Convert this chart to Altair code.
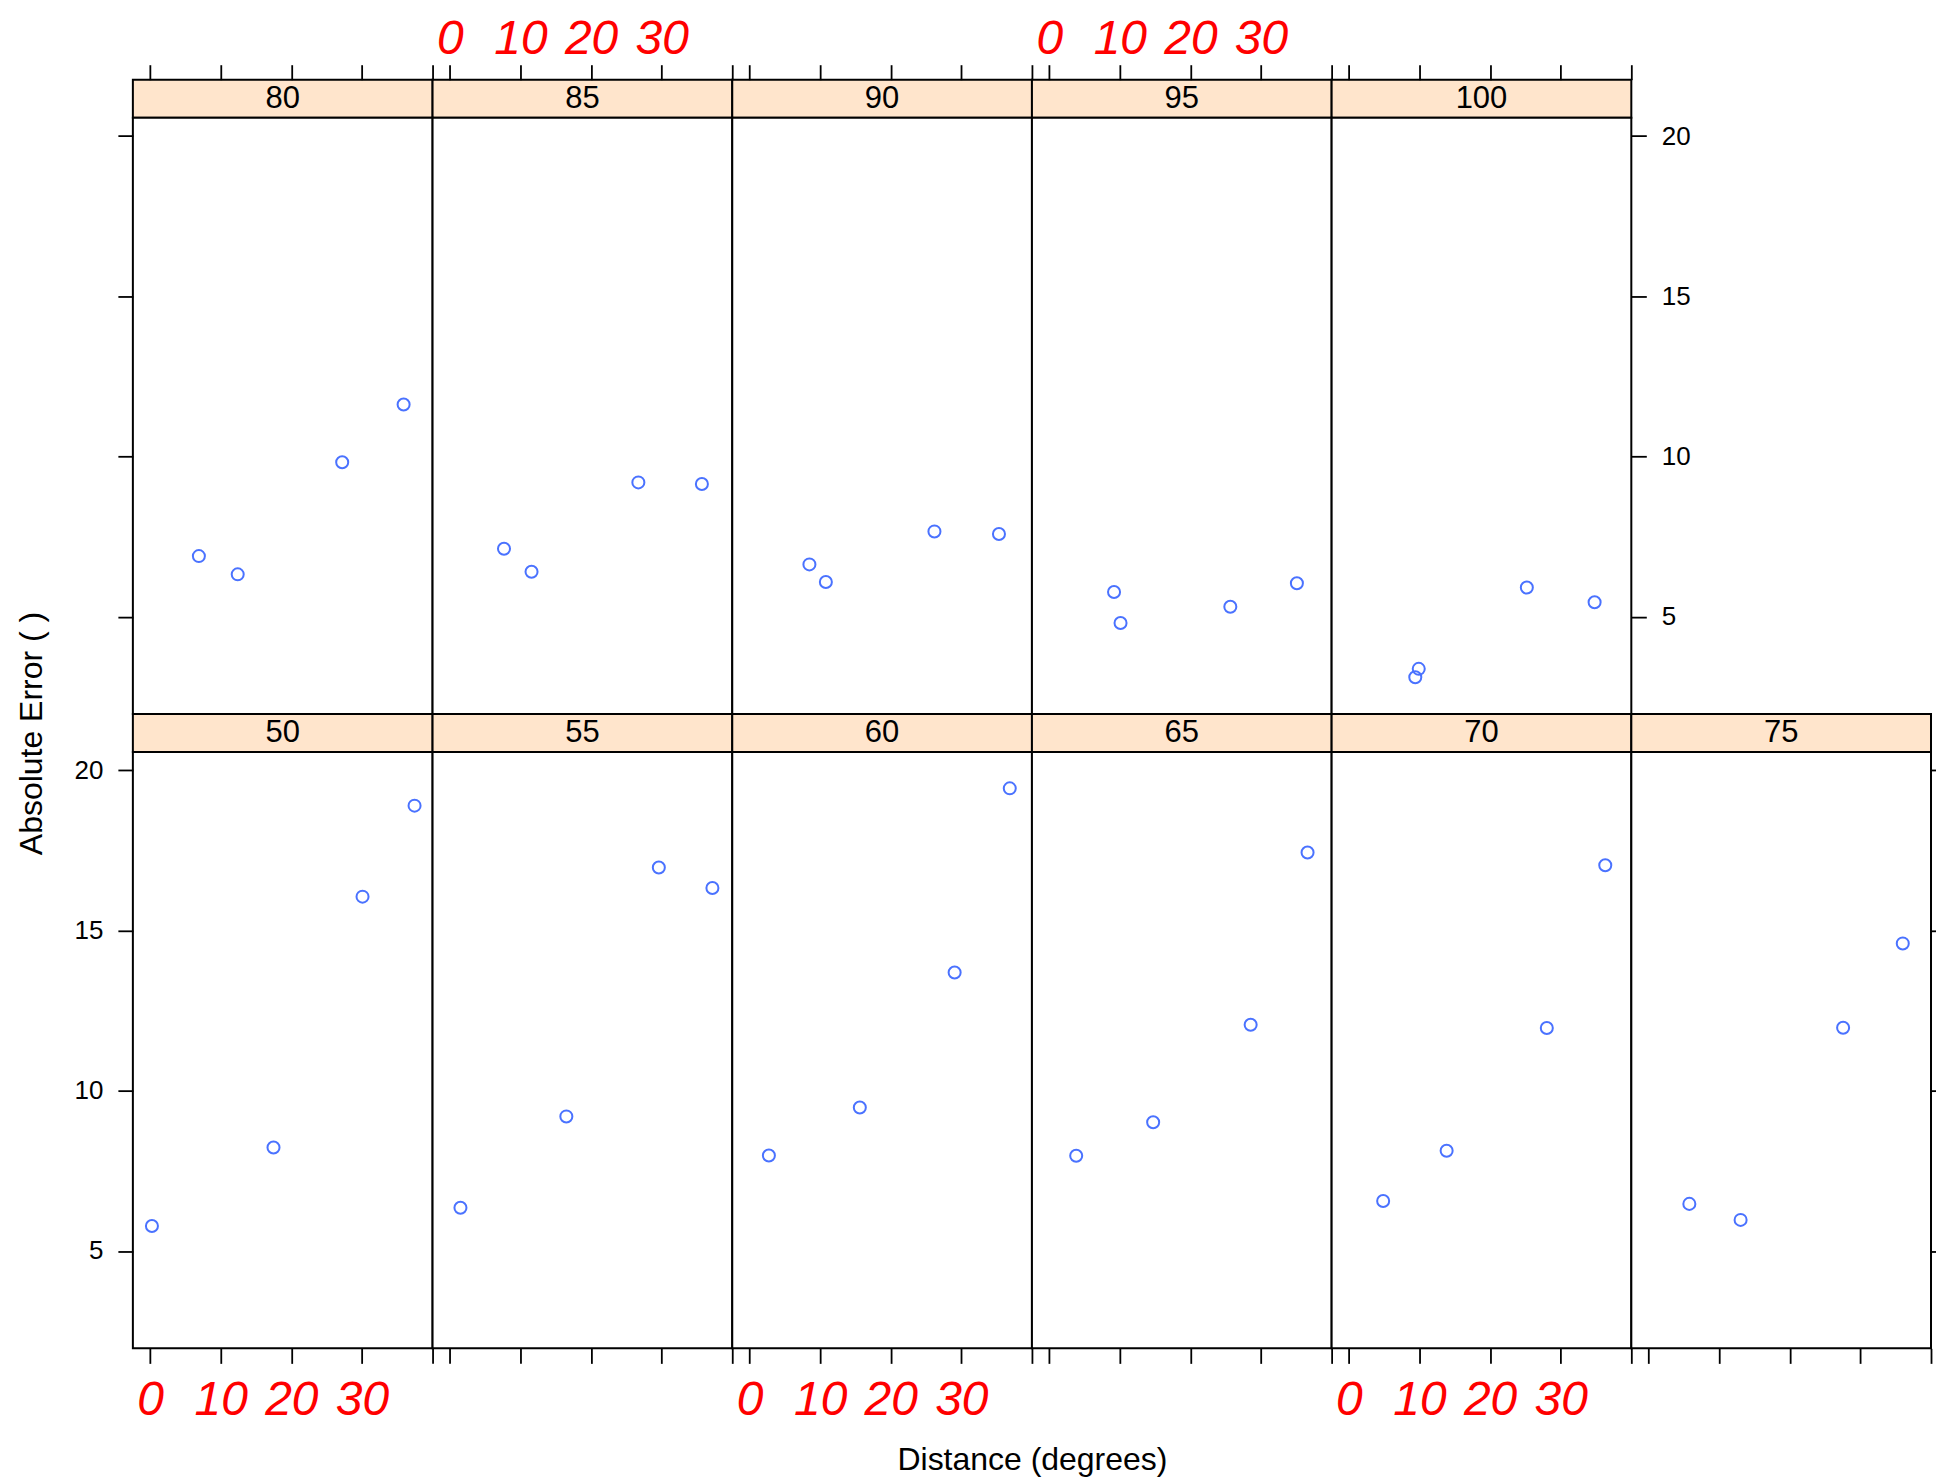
import altair as alt
import pandas as pd

# ---- data ----
panels = [50, 55, 60, 65, 70, 75, 80, 85, 90, 95, 100]
distances = [
    [0.25, 17.47, 30.08, 37.45],   # 50
    [1.50, 16.50, 29.60, 37.19],   # 55
    [2.74, 15.62, 29.05, 36.86],   # 60
    [3.82, 14.72, 28.53, 36.59],   # 65
    [4.85, 13.84, 28.03, 36.31],   # 70
    [5.77, 13.03, 27.55, 36.00],   # 75
    [6.90, 12.40, 27.20, 35.90],   # 80
    [7.67, 11.57, 26.70, 35.70],   # 85
    [8.48, 10.81, 26.19, 35.33],   # 90
    [9.18, 10.10, 25.65, 35.08],   # 95
    [9.40, 9.89, 25.20, 34.80],    # 100
]
errors = [
    [5.78, 8.23, 16.06, 18.90],    # 50
    [6.35, 9.20, 16.97, 16.33],    # 55
    [7.98, 9.48, 13.69, 19.44],    # 60
    [7.97, 9.02, 12.06, 17.44],    # 65
    [6.56, 8.13, 11.96, 17.04],    # 70
    [6.47, 5.97, 11.97, 14.60],    # 75
    [6.89, 6.32, 9.82, 11.62],     # 80
    [7.12, 6.40, 9.19, 9.14],      # 85
    [6.63, 6.08, 7.66, 7.58],      # 90
    [5.77, 4.80, 5.31, 6.04],      # 95
    [3.11, 3.37, 5.91, 5.45],      # 100
]
x_ticks = [0, 10, 20, 30, 40]
y_ticks = [5, 10, 15, 20]
top_row = [80, 85, 90, 95, 100]
bottom_row = [50, 55, 60, 65, 70, 75]
x_labelled_bottom = [50, 60, 70]
x_labelled_top = [85, 95]
x_title = "Distance (degrees)"
y_title = "Absolute Error ( )"

# ---- styling ----
FONT = "Liberation Sans"
W, H, SH = 300, 597, 38
X_DOMAIN = [-2.45, 40]
Y_DOMAIN = [1.96, 20.575]
PT = "#4a72ff"
STRIP_FILL = "#ffe5cc"
RED = "#ff0000"


def xaxis(p):
    common = dict(
        values=x_ticks, tickSize=15, tickWidth=1.8, tickColor="black",
        domain=False, grid=False, labelFont=FONT, labelFontSize=48,
        labelFontStyle="italic", labelColor=RED, labelFlush=False,
        labelOverlap=False, labelExpr="datum.value == 40 ? '' : datum.label",
    )
    if p in top_row:
        return alt.Axis(orient="top", offset=SH, labels=p in x_labelled_top,
                        labelPadding=1, title=None, **common)
    if p == 60:
        return alt.Axis(orient="bottom", labels=True, labelPadding=13,
                        title=x_title, titleX=300, titleFont=FONT,
                        titleFontSize=32, titleFontWeight="normal",
                        titleColor="black", titlePadding=20, **common)
    return alt.Axis(orient="bottom", labels=p in x_labelled_bottom,
                    labelPadding=13, title=None, **common)


def yaxis(p):
    common = dict(
        values=y_ticks, tickSize=15, tickWidth=1.8, tickColor="black",
        domain=False, grid=False, labelFont=FONT, labelFontSize=26,
        labelColor="black", labelPadding=15, labelOverlap=False,
        labelFlush=False,
    )
    if p == 50:
        return alt.Axis(orient="left", labels=True, title=y_title,
                        titleY=-19, titleFont=FONT, titleFontSize=32,
                        titleFontWeight="normal", titleColor="black",
                        titlePadding=26, **common)
    if p == 80:
        return alt.Axis(orient="left", labels=False, title=None, **common)
    if p == 100:
        return alt.Axis(orient="right", labels=True, title=None, **common)
    if p == 75:
        return alt.Axis(orient="right", labels=False, title=None, **common)
    return None


def panel_chart(p):
    i = panels.index(p)
    df = pd.DataFrame({"d": distances[i], "e": errors[i]})
    return alt.Chart(df).mark_point(
        shape="circle", filled=False, size=145, strokeWidth=2,
        color=PT, opacity=1,
    ).encode(
        x=alt.X("d:Q", scale=alt.Scale(domain=X_DOMAIN, nice=False, zero=False),
                axis=xaxis(p)),
        y=alt.Y("e:Q", scale=alt.Scale(domain=Y_DOMAIN, nice=False, zero=False),
                axis=yaxis(p)),
    ).properties(width=W, height=H,
                 view=alt.ViewBackground(stroke="black", strokeWidth=2, fill="white"))


def strip_chart(p):
    df = pd.DataFrame({"label": [str(p)]})
    return alt.Chart(df).mark_text(
        font=FONT, fontSize=31, color="black", baseline="middle", align="center"
    ).encode(text="label:N").properties(
        width=W, height=SH,
        view=alt.ViewBackground(fill=STRIP_FILL, stroke="black", strokeWidth=2))


def blank(h):
    df = pd.DataFrame({"label": [""]})
    return alt.Chart(df).mark_text().encode(text="label:N").properties(
        width=W, height=h,
        view=alt.ViewBackground(stroke="transparent", fill="transparent"))


cells = (
    [strip_chart(p) for p in top_row] + [blank(SH)]
    + [panel_chart(p) for p in top_row] + [blank(H)]
    + [strip_chart(p) for p in bottom_row]
    + [panel_chart(p) for p in bottom_row]
)

chart = alt.concat(*cells, columns=6, spacing=0, bounds="flush").properties(
    padding={"left": 6, "top": 6, "right": -12, "bottom": 2},
    background="white",
)

chart.save("out.html", embed_options={"renderer": "svg", "actions": False})
